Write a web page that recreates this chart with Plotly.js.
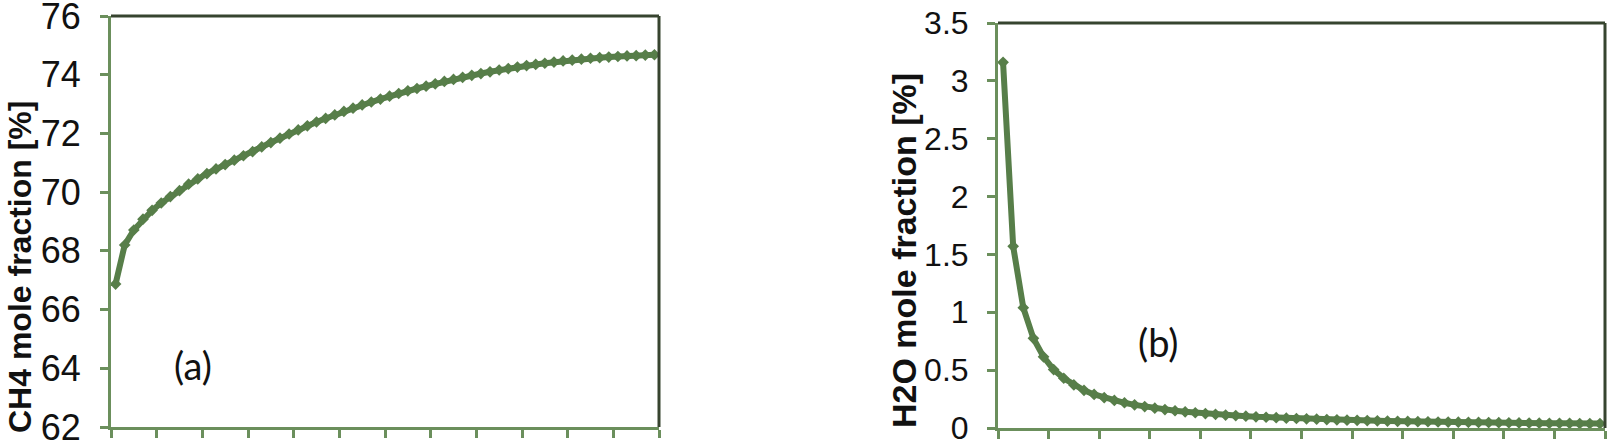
<!DOCTYPE html>
<html>
<head>
<meta charset="utf-8">
<script src="https://cdn.plot.ly/plotly-3.0.1.min.js"></script>
<style>html,body{margin:0;padding:0;background:#fff;}#chart{width:1608px;height:441px;}</style>
</head>
<body>
<div id="chart"></div>
<script>
// Category index (1..60) shared by both panels
const steps = Array.from({length: 60}, (_, i) => i + 1);

// (a) CH4 mole fraction [%]
const ch4 = [66.87, 68.20, 68.71, 69.08, 69.38, 69.63, 69.85, 70.05, 70.27, 70.45,
             70.63, 70.79, 70.94, 71.09, 71.24, 71.38, 71.54, 71.69, 71.84, 71.98,
             72.12, 72.26, 72.39, 72.51, 72.63, 72.75, 72.86, 72.97, 73.07, 73.17,
             73.27, 73.36, 73.45, 73.53, 73.61, 73.69, 73.77, 73.84, 73.91, 73.98,
             74.04, 74.10, 74.16, 74.21, 74.26, 74.31, 74.35, 74.39, 74.43, 74.47,
             74.50, 74.53, 74.56, 74.58, 74.60, 74.62, 74.64, 74.65, 74.67, 74.68];

// (b) H2O mole fraction [%]
const h2o = [3.16, 1.57, 1.04, 0.775, 0.615, 0.505, 0.430, 0.372, 0.326, 0.290,
             0.262, 0.238, 0.218, 0.200, 0.185, 0.171, 0.159, 0.149, 0.140, 0.132,
             0.125, 0.118, 0.112, 0.107, 0.102, 0.097, 0.093, 0.089, 0.085, 0.082,
             0.079, 0.076, 0.073, 0.071, 0.068, 0.066, 0.064, 0.062, 0.060, 0.058,
             0.057, 0.055, 0.054, 0.052, 0.051, 0.050, 0.049, 0.048, 0.047, 0.046,
             0.045, 0.044, 0.043, 0.042, 0.041, 0.041, 0.040, 0.039, 0.038, 0.038];

const yTitleA = 'CH4 mole fraction [%]';
const yTitleB = 'H2O mole fraction [%]';
const panelLabels = ['(a)', '(b)'];

const W = 1608, H = 441;
const px = v => v / W;
const py = v => 1 - v / H;

const lineColor = '#577e49';
const axisColor = '#6b8f5c';
const borderColor = '#37442f';
const fam = 'Liberation Sans, Arial, sans-serif';

const traceStyle = {
  mode: 'lines+markers',
  line: {color: lineColor, width: 6},
  marker: {symbol: 'diamond', size: 9, color: lineColor},
  hoverinfo: 'skip',
  showlegend: false
};

const data = [
  Object.assign({x: steps, y: ch4, xaxis: 'x', yaxis: 'y'}, traceStyle),
  Object.assign({x: steps, y: h2o, xaxis: 'x2', yaxis: 'y2'}, traceStyle)
];

function xAx(domain, anchor) {
  return {
    domain: domain, anchor: anchor, range: [0.5, 60.5],
    tickmode: 'linear', tick0: 0.5, dtick: 5,
    showticklabels: false, ticks: 'outside', ticklen: 8, tickwidth: 3, tickcolor: axisColor,
    showline: true, linecolor: axisColor, linewidth: 3,
    showgrid: false, zeroline: false, fixedrange: true, automargin: false
  };
}
function yAx(domain, anchor, range, dtick, fsize) {
  return {
    domain: domain, anchor: anchor, range: range,
    tickmode: 'linear', tick0: range[0], dtick: dtick,
    ticks: 'outside', ticklen: 8, tickwidth: 3, tickcolor: axisColor,
    tickfont: {family: fam, size: fsize, color: '#111'}, ticklabelstandoff: 12,
    ticklabeloverflow: 'allow',
    showline: true, linecolor: axisColor, linewidth: 3,
    showgrid: false, zeroline: false, fixedrange: true, automargin: false
  };
}

const layout = {
  width: W, height: H,
  margin: {l: 0, r: 0, t: 0, b: 0, pad: 0},
  paper_bgcolor: '#ffffff', plot_bgcolor: '#ffffff',
  xaxis: xAx([px(111), px(659)], 'y'),
  yaxis: yAx([py(427), py(16)], 'x', [62, 76], 2, 36),
  xaxis2: xAx([px(998), px(1605)], 'y2'),
  yaxis2: yAx([py(428), py(23)], 'x2', [0, 3.5], 0.5, 32),
  shapes: [
    {type: 'line', xref: 'x domain', yref: 'y domain', x0: 0, x1: 1, y0: 1, y1: 1, line: {color: borderColor, width: 3}},
    {type: 'line', xref: 'x domain', yref: 'y domain', x0: 1, x1: 1, y0: 0, y1: 1, line: {color: borderColor, width: 3}},
    {type: 'line', xref: 'x2 domain', yref: 'y2 domain', x0: 0, x1: 1, y0: 1, y1: 1, line: {color: borderColor, width: 3}},
    {type: 'line', xref: 'x2 domain', yref: 'y2 domain', x0: 1, x1: 1, y0: 0, y1: 1, line: {color: borderColor, width: 3}}
  ],
  annotations: [
    {text: '<b>' + yTitleA + '</b>', textangle: -90, xref: 'paper', yref: 'paper',
     x: px(20), y: py(267), xanchor: 'center', yanchor: 'middle', showarrow: false,
     font: {family: fam, size: 32, color: '#111'}},
    {text: '<b>' + yTitleB + '</b>', textangle: -90, xref: 'paper', yref: 'paper',
     x: px(904), y: py(251), xanchor: 'center', yanchor: 'middle', showarrow: false,
     font: {family: fam, size: 34, color: '#111'}},
    {text: panelLabels[0], xref: 'paper', yref: 'paper', x: px(193), y: py(365),
     xanchor: 'center', yanchor: 'middle', showarrow: false,
     font: {family: 'Lato, Open Sans, sans-serif', size: 38, color: '#111'}},
    {text: panelLabels[1], xref: 'paper', yref: 'paper', x: px(1158), y: py(342),
     xanchor: 'center', yanchor: 'middle', showarrow: false,
     font: {family: 'Lato, Open Sans, sans-serif', size: 38, color: '#111'}}
  ]
};

Plotly.newPlot('chart', data, layout, {staticPlot: true, displayModeBar: false});
</script>
</body>
</html>
